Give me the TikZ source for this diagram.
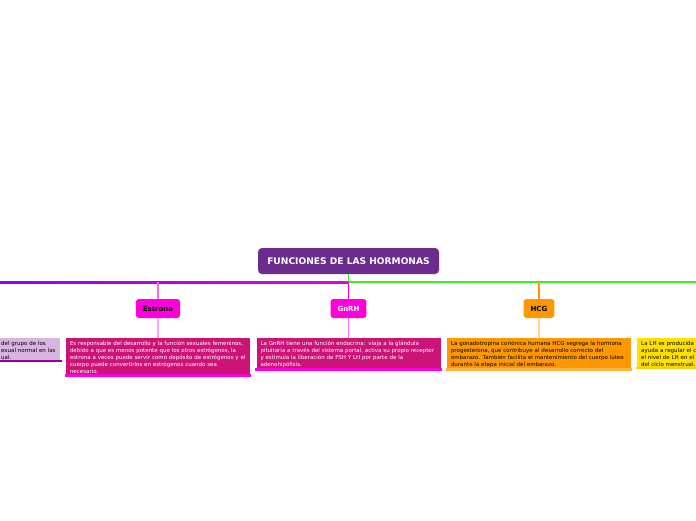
\documentclass[tikz,border=0pt]{standalone}
\usepackage{fontspec}
\setmainfont{DejaVu Sans}
\usepackage{tikz}
\usetikzlibrary{positioning}
\definecolor{titlecol}{RGB}{106, 44, 142}
\definecolor{berry}{RGB}{204, 20, 120}
\definecolor{pinkbox}{RGB}{255, 0, 220}
\definecolor{orangebox}{RGB}{255, 152, 0}
\definecolor{yellowbox}{RGB}{255, 224, 0}
\definecolor{lilac}{RGB}{216, 180, 224}
\definecolor{linegreen}{RGB}{60, 240, 30}
\definecolor{lineviolet}{RGB}{145, 0, 255}
\definecolor{linemagenta}{RGB}{225, 0, 235}

\begin{document}
\begin{tikzpicture}[x=1pt, y=-1pt,
  topic/.style={rounded corners=3pt, minimum height=19pt, inner xsep=7pt,
    font=\fontsize{7}{8}\selectfont\bfseries},
  info/.style={inner xsep=4pt, inner ysep=3pt, text width=176pt, align=left,
    font=\fontsize{5.5}{7}\selectfont, anchor=north}]
  \useasboundingbox[fill=white] (0,0) rectangle (696,520);

  % Main title
  \node[fill=titlecol, text=white, rounded corners=4pt, minimum width=181pt, minimum height=26pt,
    font=\fontsize{9.1}{10}\selectfont\bfseries] (title) at (348.5,261) {FUNCIONES DE LAS HORMONAS};

  % Branch line
  \coordinate (hub) at (348.5,282);
  \shade[left color=lineviolet, right color=linemagenta] (0,281) rectangle (348.5,283);
  \fill[linegreen] (348.5,281) rectangle (696,283);
  \draw[linegreen, line width=1.2pt] (title.south) -- (hub);

  % Topics
  \node[topic, fill=pinkbox, text=black] (estrona) at (158,308.5) {Estrona};
  \node[topic, fill=pinkbox, text=white] (gnrh) at (348.5,308.5) {GnRH};
  \node[topic, fill=orangebox, text=black] (hcg) at (539,308.5) {HCG};
  \draw[pinkbox!60, line width=1.2pt] (estrona.north) -- (estrona.north |- hub);
  \draw[pinkbox, line width=1.2pt] (gnrh.north) -- (hub);
  \draw[orangebox, line width=1.2pt] (hcg.north) -- (hcg.north |- hub);

  % Descriptions
  \node[info, fill=berry, text=white, below=20pt of estrona] (estronatxt) {Es responsable del desarrollo y la función sexuales femeninos,\\
    debido a que es menos potente que los otros estrógenos, la\\
    estrona a veces puede servir como depósito de estrógenos y el\\
    cuerpo puede convertirlos en estrógenos cuando sea\\
    necesario.};
  \node[info, fill=berry, text=white, below=20pt of gnrh] (gnrhtxt) {La GnRH tiene una función endocrina: viaja a la glándula\\
    pituitaria a través del sistema portal, activa su propio receptor\\
    y estimula la liberación de FSH Y LH por parte de la\\
    adenohipófisis.};
  \node[info, fill=orangebox, text=black, below=20pt of hcg] (hcgtxt) {La gonadotropina coriónica humana HCG segrega la hormona\\
    progesterona, que contribuye al desarrollo correcto del\\
    embarazo. También facilita el mantenimiento del cuerpo lúteo\\
    durante la etapa inicial del embarazo.};
  \draw[pinkbox!35, line width=1.2pt] (estrona) -- (estronatxt);
  \draw[pinkbox!55, line width=1.2pt] (gnrh) -- (gnrhtxt);
  \draw[orangebox!40, line width=1.2pt] (hcg) -- (hcgtxt);
  \draw[pinkbox, line width=2.5pt] ([xshift=-1pt, yshift=1.5pt]estronatxt.south west) -- ([xshift=1pt, yshift=1.5pt]estronatxt.south east);
  \draw[pinkbox, line width=2.5pt] ([xshift=-1pt, yshift=1.5pt]gnrhtxt.south west) -- ([xshift=1pt, yshift=1.5pt]gnrhtxt.south east);
  \draw[orangebox!75, line width=2.5pt] ([xshift=-1pt, yshift=1.5pt]hcgtxt.south west) -- ([xshift=1pt, yshift=1.5pt]hcgtxt.south east);

  % Boxes cut off at the edges
  \node[info, fill=lilac, text=black, anchor=north west, text width=58pt, inner xsep=1pt] (lefttxt) at (0,338) {del grupo de los\\
    exual normal en las\\
    ual.};
  \draw[violet!80!magenta, line width=2.5pt] ([yshift=1.5pt]lefttxt.south west) -- ([xshift=2pt, yshift=1.5pt]lefttxt.south east);
  \node[info, fill=yellowbox, text=black, anchor=north west] (lhtxt) at (637,338) {La LH es producida por\\
    ayuda a regular el ciclo\\
    el nivel de LH en el cuerpo\\
    del ciclo menstrual.};
  \draw[yellowbox!80!orange, line width=2.5pt] ([xshift=-1pt, yshift=1.5pt]lhtxt.south west) -- ([yshift=1.5pt]lhtxt.south east);
\end{tikzpicture}
\end{document}
